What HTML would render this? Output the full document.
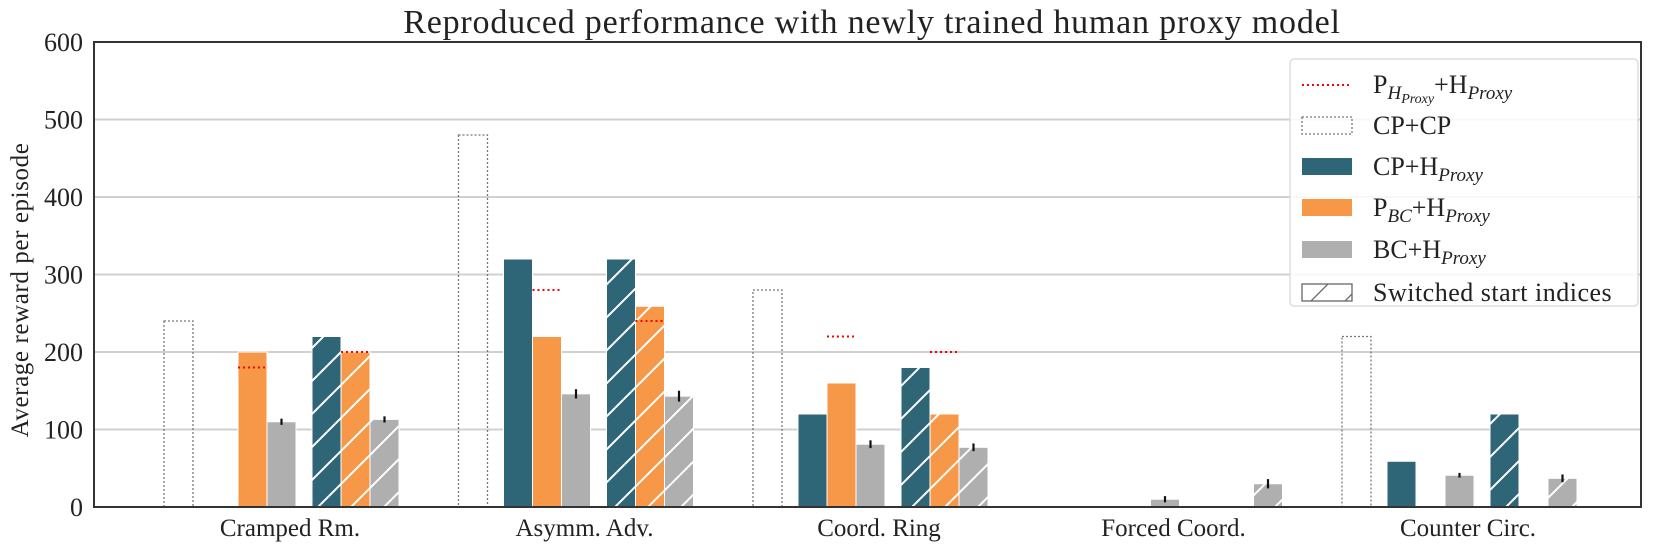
<!DOCTYPE html>
<html><head><meta charset="utf-8"><style>
body{margin:0;background:#fff}
svg{display:block;font-family:"Liberation Serif",serif}
</style></head><body>
<svg id="chart" width="1659" height="553" viewBox="0 0 1659 553" xmlns="http://www.w3.org/2000/svg">
<defs>
<pattern id="hatch" patternUnits="userSpaceOnUse" width="33" height="33">
<path d="M0,33 L33,0 M-8,8 L8,-8 M25,41 L41,25" stroke="#fff" stroke-width="2"/>
</pattern>
<pattern id="hatchLeg" patternUnits="userSpaceOnUse" width="34" height="34" x="1302" y="276">
<path d="M0,34 L34,0 M-8,8 L8,-8 M26,42 L42,26" stroke="#666" stroke-width="1.3"/>
</pattern>
</defs>
<text x="872" y="33" font-size="34" letter-spacing="0.8" text-anchor="middle" fill="#222">Reproduced performance with newly trained human proxy model</text>
<g id="grid"></g>
<g id="bars"></g>
<rect x="94" y="42" width="1547" height="465" fill="none" stroke="#333" stroke-width="2"/>
<g id="axes"></g>
<text transform="translate(28,290) rotate(-90)" font-size="25" letter-spacing="0.6" text-anchor="middle" fill="#222">Average reward per episode</text>
<g>
<rect x="1290" y="59" width="348" height="247" rx="4" fill="#fff" fill-opacity="0.85" stroke="#ddd" stroke-width="1.5"/>
<line x1="1302" y1="85" x2="1352" y2="85" stroke="red" stroke-width="2" stroke-dasharray="2,3"/>
<text x="1373" y="93" font-size="26" fill="#222">P<tspan font-size="19" font-style="italic" dy="6">H</tspan><tspan font-size="14" font-style="italic" dy="4">Proxy</tspan><tspan dy="-10">+H</tspan><tspan font-size="19" font-style="italic" dy="6">Proxy</tspan></text>
<rect x="1302" y="117" width="50" height="17" fill="none" stroke="#777" stroke-width="1.3" stroke-dasharray="2,2"/>
<text x="1373" y="134" font-size="26" fill="#222">CP+CP</text>
<rect x="1302" y="158" width="50" height="17" fill="#2e6677"/>
<text x="1373" y="175" font-size="26" fill="#222">CP+H<tspan font-size="19" font-style="italic" dy="6">Proxy</tspan></text>
<rect x="1302" y="199" width="50" height="17" fill="#f79849"/>
<text x="1373" y="216" font-size="26" fill="#222">P<tspan font-size="19" font-style="italic" dy="6">BC</tspan><tspan dy="-6">+H</tspan><tspan font-size="19" font-style="italic" dy="6">Proxy</tspan></text>
<rect x="1302" y="241" width="50" height="17" fill="#afafaf"/>
<text x="1373" y="258" font-size="26" fill="#222">BC+H<tspan font-size="19" font-style="italic" dy="6">Proxy</tspan></text>
<rect x="1302" y="284" width="50" height="17" fill="url(#hatchLeg)" stroke="#666" stroke-width="1.3"/>
<text x="1373" y="301" font-size="26" letter-spacing="0.5" fill="#222">Switched start indices</text>
</g>
</svg>
<script>
const categories = ["Cramped Rm.", "Asymm. Adv.", "Coord. Ring", "Forced Coord.", "Counter Circ."];
const yTicks = [0, 100, 200, 300, 400, 500, 600];
const cpcp = [240, 480, 280, 0, 220];
const cph = [0, 320, 120, 0, 59];
const pbch = [200, 220, 160, 0, 0];
const bch = [110, 146, 81, 10, 41];
const bchErr = [4, 6, 5, 4, 3];
const phLine = [180, 280, 220, null, null];
const swCph = [220, 320, 180, 0, 120];
const swPbch = [200, 259, 120, 0, 0];
const swBch = [113, 143, 77, 30, 37];
const swBchErr = [4, 7, 5, 6, 5];
const swPhLine = [200, 240, 200, null, null];

const NS = "http://www.w3.org/2000/svg";
const y = v => 507 - v * 0.775;
const gx = i => 164 + i * 294.5;
const W = 29;
function mk(tag, attrs, parent) {
  const e = document.createElementNS(NS, tag);
  for (const k in attrs) e.setAttribute(k, attrs[k]);
  parent.appendChild(e);
  return e;
}
const grid = document.getElementById('grid');
const axes = document.getElementById('axes');
const bars = document.getElementById('bars');
yTicks.forEach(t => {
  if (t > 0 && t < 600) {
    const l = mk('line', {x1: 94, x2: 1641, y1: y(t), y2: y(t), stroke: '#d0d0d0', 'stroke-width': 2}, grid);
    
    
  }
  const tx = mk('text', {x: 83, y: y(t) + 9, 'font-size': 26, 'text-anchor': 'end', fill: '#222'}, axes);
  tx.textContent = t;
  
  
});
categories.forEach((c, i) => {
  const tx = mk('text', {x: gx(i) + 126, y: 536, 'font-size': 25, 'text-anchor': 'middle', fill: '#222'}, axes);
  tx.textContent = c;
  
  
});
function bar(x, v, fill, name, hatch) {
  if (!v) return;
  const r = mk('rect', {x: x, y: y(v), width: W, height: y(0) - y(v), fill: fill, stroke: '#fff', 'stroke-width': 1}, bars);
  
  
  if (hatch) {
    const h = mk('rect', {x: x, y: y(v), width: W, height: y(0) - y(v), fill: 'url(#hatch)'}, bars);
    
    
  }
}
function err(x, v, e, name) {
  if (!v) return;
  const l = mk('line', {x1: x + W / 2, x2: x + W / 2, y1: y(v + e), y2: y(v - e), stroke: '#111', 'stroke-width': 2.2}, bars);
  
  
}
function ph(x, v, name) {
  if (v == null) return;
  const l = mk('line', {x1: x, x2: x + W, y1: y(v), y2: y(v), stroke: 'red', 'stroke-width': 2, 'stroke-dasharray': '2,3'}, bars);
  
  
}
categories.forEach((c, i) => {
  const g = gx(i);
  if (cpcp[i]) {
    const r = mk('rect', {x: g, y: y(cpcp[i]), width: W, height: y(0) - y(cpcp[i]), fill: 'none', stroke: '#777', 'stroke-width': 1.3, 'stroke-dasharray': '2,2'}, bars);
    
    
  }
  bar(g + 45, cph[i], '#2e6677', 'bar-cp-hproxy', false);
  bar(g + 74, pbch[i], '#f79849', 'bar-pbc-hproxy', false);
  bar(g + 103, bch[i], '#afafaf', 'bar-bc-hproxy', false);
  err(g + 103, bch[i], bchErr[i], 'error-bar-bc-hproxy');
  ph(g + 74, phLine[i], 'line-ph-hproxy');
  bar(g + 148, swCph[i], '#2e6677', 'bar-switched-cp-hproxy', true);
  bar(g + 177, swPbch[i], '#f79849', 'bar-switched-pbc-hproxy', true);
  bar(g + 206, swBch[i], '#afafaf', 'bar-switched-bc-hproxy', true);
  err(g + 206, swBch[i], swBchErr[i], 'error-bar-switched-bc-hproxy');
  ph(g + 177, swPhLine[i], 'line-switched-ph-hproxy');
});
</script>
</body></html>
